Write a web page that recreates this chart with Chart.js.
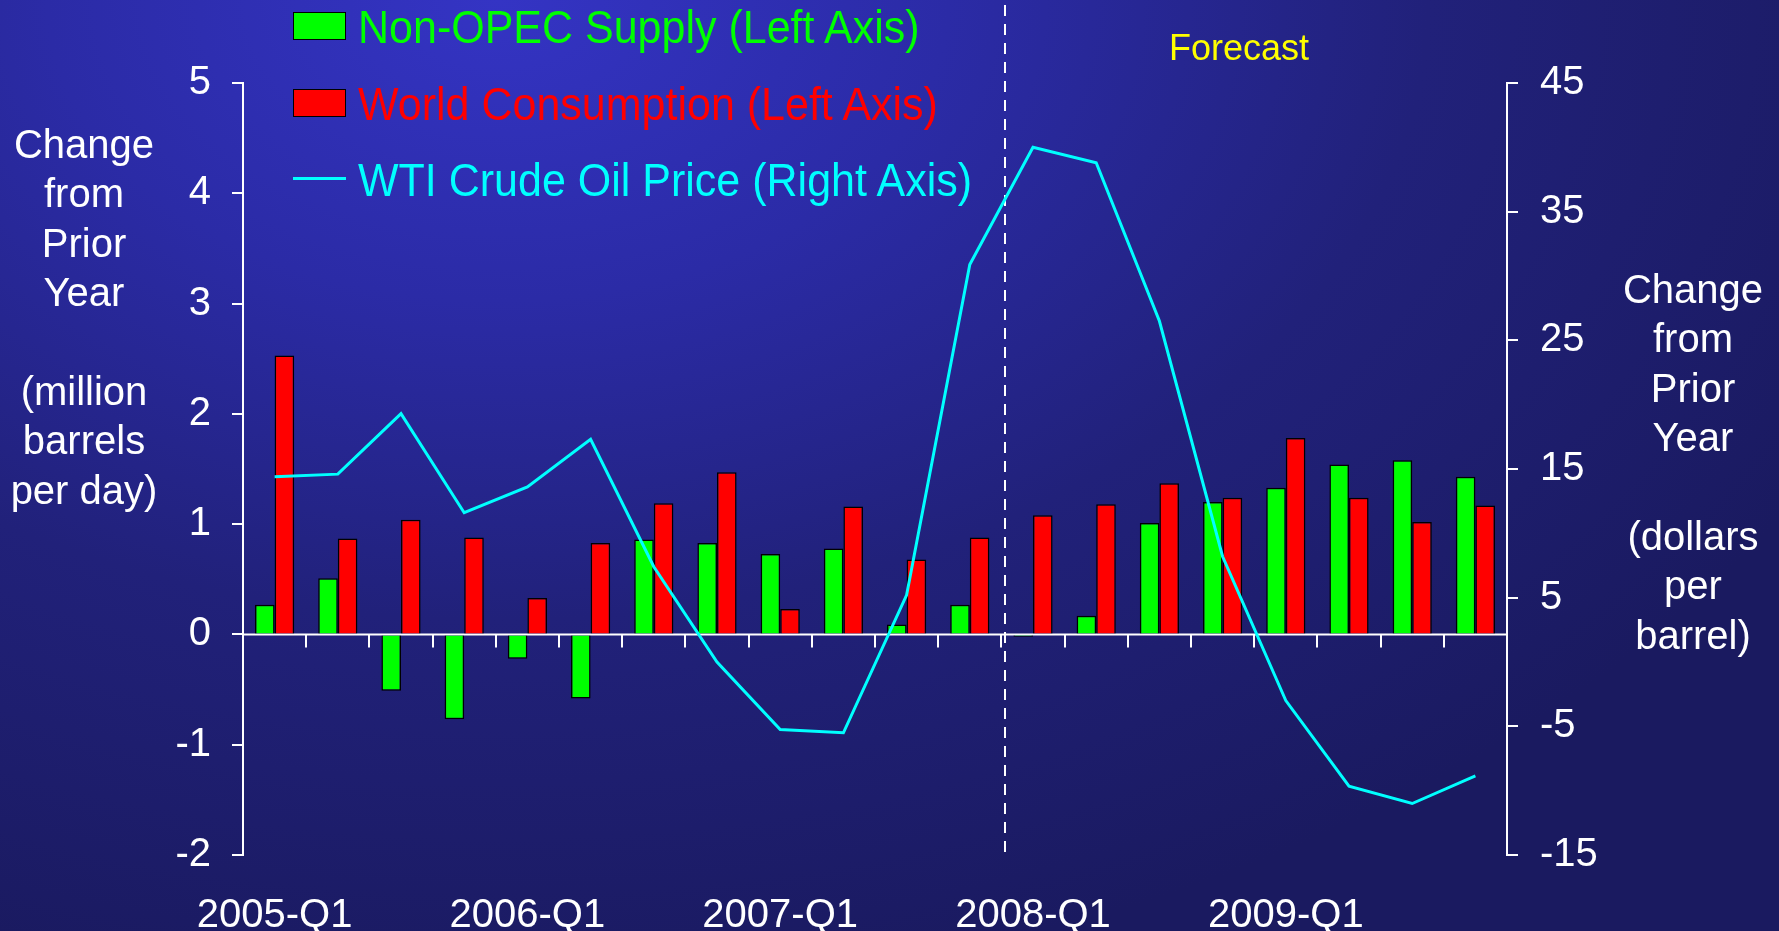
<!DOCTYPE html>
<html>
<head>
<meta charset="utf-8">
<script src="https://cdn.jsdelivr.net/npm/chart.js@4.4.1/dist/chart.umd.min.js"></script>
<style>
  html, body { margin: 0; padding: 0; }
  body {
    width: 1779px; height: 931px; overflow: hidden;
    background: radial-gradient(ellipse 1500px 1000px at 28% 0%, #3434c4 0%, #2b2ba6 30%, #21217a 62%, #1a1a60 100%);
    font-family: "Liberation Sans", Arial, sans-serif;
  }
  #wrap { position: absolute; left: 0; top: 0; width: 1779px; height: 931px; }
  .title { position: absolute; color: #fff; font-size: 40px; line-height: 49.4px; text-align: center; white-space: nowrap; }
  .leg { position: absolute; font-size: 43px; line-height: 50px; white-space: nowrap; transform: scaleY(1.08); transform-origin: left center; }
  .box { position: absolute; width: 51px; height: 26px; border: 1.5px solid #000; }
  .ln { position: absolute; width: 53px; height: 3px; background: #00ffff; }
</style>
</head>
<body>
<div id="wrap"><canvas id="chart"></canvas></div>

<div class="title" style="left:4px;width:160px;top:120px;">Change<br>from<br>Prior<br>Year<br><br>(million<br>barrels<br>per day)</div>
<div class="title" style="left:1613px;width:160px;top:265px;">Change<br>from<br>Prior<br>Year<br><br>(dollars<br>per<br>barrel)</div>

<div class="box" style="left:293px;top:12px;background:#00ff00;"></div>
<div class="leg" style="left:358px;top:2px;color:#00ff00;">Non-OPEC Supply (Left Axis)</div>
<div class="box" style="left:293px;top:89px;background:#ff0000;"></div>
<div class="leg" style="left:358px;top:79px;color:#ff0000;">World Consumption (Left Axis)</div>
<div class="ln" style="left:293px;top:177px;"></div>
<div class="leg" style="left:358px;top:155px;color:#00ffff;">WTI Crude Oil Price (Right Axis)</div>

<div style="position:absolute;left:1139px;width:200px;top:26px;text-align:center;color:#ffff00;font-size:36px;line-height:44px;">Forecast</div>

<script>
// quarters and values
const quarters = [
  '2005-Q1','2005-Q2','2005-Q3','2005-Q4',
  '2006-Q1','2006-Q2','2006-Q3','2006-Q4',
  '2007-Q1','2007-Q2','2007-Q3','2007-Q4',
  '2008-Q1','2008-Q2','2008-Q3','2008-Q4',
  '2009-Q1','2009-Q2','2009-Q3','2009-Q4'
];
const xTickLabels = ['2005-Q1','2006-Q1','2007-Q1','2008-Q1','2009-Q1'];

// million barrels per day (left axis)
const nonOpecSupply = [0.27, 0.51, -0.51, -0.77, -0.22, -0.58, 0.86, 0.83, 0.73, 0.78, 0.09, 0.27,
                       -0.02, 0.17, 1.01, 1.20, 1.33, 1.54, 1.58, 1.43];
const worldConsumption = [2.53, 0.87, 1.04, 0.88, 0.33, 0.83, 1.19, 1.47, 0.23, 1.16, 0.68, 0.88,
                          1.08, 1.18, 1.37, 1.24, 1.78, 1.24, 1.02, 1.17];
// dollars per barrel (right axis)
const wtiPrice = [14.4, 14.6, 19.3, 11.6, 13.6, 17.3, 7.4, 0.0, -5.25, -5.5, 5.2, 30.9,
                  40.0, 38.8, 26.5, 8.2, -3.0, -9.65, -11.0, -8.85];

const leftTicks = { min: -2, max: 5, step: 1 };
const rightTicks = { min: -15, max: 45, step: 10 };
const forecastStart = 11.56; // between 2007-Q4 and 2008-Q1

const FONT = '"Liberation Sans", Arial, sans-serif';

// zero line, category ticks under it, dashed forecast divider
const decorations = {
  id: 'decorations',
  beforeDatasetsDraw(chart) {
    const { ctx, chartArea: a, scales: { x, y } } = chart;
    const y0 = y.getPixelForValue(0);
    ctx.save();
    ctx.strokeStyle = '#ffffff';
    ctx.lineWidth = 2;
    ctx.beginPath();
    ctx.moveTo(a.left, y0);
    ctx.lineTo(a.right, y0);
    for (let i = 0; i <= quarters.length; i++) {
      const px = Math.round(x.getPixelForValue(i - 0.5));
      ctx.moveTo(px, y0);
      ctx.lineTo(px, y0 + 13);
    }
    ctx.stroke();
    const fx = Math.round(x.getPixelForValue(forecastStart));
    ctx.setLineDash([11, 8]);
    ctx.beginPath();
    ctx.moveTo(fx, 5);
    ctx.lineTo(fx, a.bottom);
    ctx.stroke();
    ctx.restore();
  }
};

new Chart(document.getElementById('chart'), {
  type: 'bar',
  data: {
    labels: quarters,
    datasets: [
      {
        type: 'line',
        label: 'WTI Crude Oil Price (Right Axis)',
        data: wtiPrice,
        yAxisID: 'y1',
        borderColor: '#00ffff',
        borderWidth: 3,
        pointRadius: 0,
        tension: 0,
        fill: false,
        order: 0
      },
      {
        label: 'Non-OPEC Supply (Left Axis)',
        data: nonOpecSupply,
        yAxisID: 'y',
        backgroundColor: '#00ff00',
        borderColor: '#000000',
        borderWidth: 1.5,
        order: 1
      },
      {
        label: 'World Consumption (Left Axis)',
        data: worldConsumption,
        yAxisID: 'y',
        backgroundColor: '#ff0000',
        borderColor: '#000000',
        borderWidth: 1.5,
        order: 1
      }
    ]
  },
  options: {
    responsive: true,
    maintainAspectRatio: false,
    animation: false,
    layout: { padding: { top: 83, bottom: 0, left: 0, right: 0 } },
    datasets: { bar: { barPercentage: 1, categoryPercentage: 0.62 } },
    plugins: { legend: { display: false }, tooltip: { enabled: false } },
    scales: {
      x: {
        offset: true,
        grid: { display: false, drawTicks: false },
        border: { display: false },
        ticks: {
          color: '#ffffff',
          font: { family: FONT, size: 40 },
          padding: 37,
          autoSkip: false,
          maxRotation: 0,
          callback: (v, i) => xTickLabels.includes(quarters[i]) ? quarters[i] : ''
        },
        afterFit: (s) => { s.height = 76; }
      },
      y: {
        position: 'left',
        min: leftTicks.min,
        max: leftTicks.max,
        ticks: { stepSize: leftTicks.step, color: '#ffffff', font: { family: FONT, size: 40 }, padding: 21 },
        grid: { drawOnChartArea: false, color: '#ffffff', tickLength: 11, lineWidth: 2 },
        border: { color: '#ffffff', width: 2 },
        afterFit: (s) => { s.width = 243; }
      },
      y1: {
        position: 'right',
        min: rightTicks.min,
        max: rightTicks.max,
        ticks: { stepSize: rightTicks.step, color: '#ffffff', font: { family: FONT, size: 40 }, padding: 22 },
        grid: { drawOnChartArea: false, color: '#ffffff', tickLength: 11, lineWidth: 2 },
        border: { color: '#ffffff', width: 2 },
        afterFit: (s) => { s.width = 272; }
      }
    }
  },
  plugins: [decorations]
});
</script>
</body>
</html>
